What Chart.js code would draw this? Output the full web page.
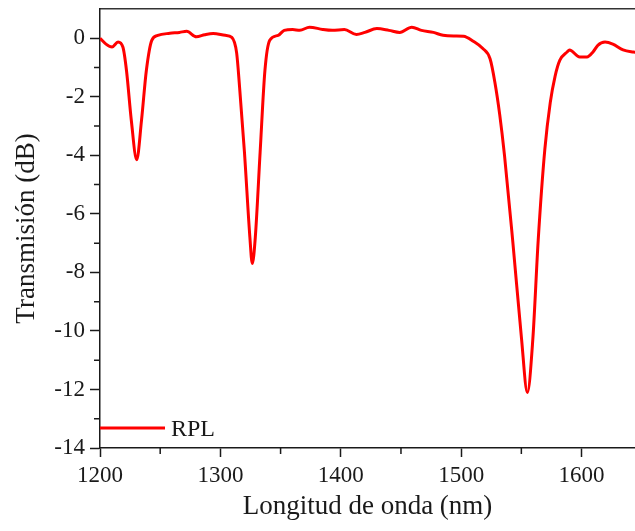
<!DOCTYPE html>
<html>
<head>
<meta charset="utf-8">
<script src="https://cdn.jsdelivr.net/npm/chart.js@4.4.1/dist/chart.umd.min.js"></script>
<style>
  html, body { margin: 0; padding: 0; background: #fff; }
  #wrap { width: 635px; height: 531px; }
</style>
</head>
<body>
<div id="wrap"><canvas id="chart" width="635" height="531"></canvas></div>
<script>
// Wavelength (nm) and transmission (dB)
const wavelength = [
  1200, 1205, 1210, 1215, 1219, 1222, 1226, 1230.5, 1234.5, 1238.5,
  1243, 1248, 1258, 1266, 1272, 1280, 1287, 1294, 1304, 1309.5,
  1313.5, 1316, 1320, 1324.5, 1326.5, 1329, 1333, 1337, 1341, 1348,
  1353, 1360, 1366, 1374, 1385, 1393, 1403, 1413, 1420, 1430,
  1440, 1449, 1459, 1467, 1477, 1485, 1495, 1502, 1510, 1518,
  1524, 1528, 1532, 1536, 1543, 1550, 1555, 1559.5, 1564, 1569.5,
  1574, 1578, 1582, 1588, 1590, 1598.5, 1604.5, 1609.5, 1613.5, 1619.5,
  1626, 1634.5, 1643, 1650
];
const transmission = [
  0, -0.2, -0.3, -0.13, -0.3, -1.1, -2.8, -4.15, -2.8, -1.1,
  -0.07, 0.1, 0.17, 0.2, 0.24, 0.05, 0.12, 0.16, 0.1, 0.03,
  -0.5, -1.7, -3.9, -6.8, -7.7, -6.8, -3.9, -1.1, -0.07, 0.1,
  0.27, 0.3, 0.27, 0.38, 0.3, 0.27, 0.3, 0.13, 0.2, 0.33,
  0.27, 0.2, 0.38, 0.27, 0.2, 0.1, 0.08, 0.07, -0.1, -0.35,
  -0.7, -1.5, -2.6, -4.0, -7.0, -10.2, -12.1, -10.3, -6.9, -3.8,
  -2.2, -1.3, -0.75, -0.47, -0.4, -0.64, -0.64, -0.47, -0.24, -0.13,
  -0.2, -0.4, -0.47, -0.5
];
const seriesLabel = 'RPL';
const xMinorTicks = [1250, 1350, 1450, 1550];
const yMinorTicks = [-13, -11, -9, -7, -5, -3, -1];

const FONT = '"Liberation Serif", "Times New Roman", serif';
const INK = '#1a1a1a';

// minor tick marks + legend inside the plot area
const extras = {
  id: 'extras',
  afterDraw(chart) {
    const ctx = chart.ctx;
    const area = chart.chartArea;
    const xs = chart.scales.x, ys = chart.scales.y;
    ctx.save();
    ctx.strokeStyle = INK;
    ctx.lineWidth = 1.5;
    ctx.beginPath();
    xMinorTicks.forEach(v => {
      const px = xs.getPixelForValue(v);
      ctx.moveTo(px, area.bottom);
      ctx.lineTo(px, area.bottom + 6);
    });
    yMinorTicks.forEach(v => {
      const py = ys.getPixelForValue(v);
      ctx.moveTo(area.left, py);
      ctx.lineTo(area.left - 6, py);
    });
    ctx.stroke();

    // legend
    const ds = chart.data.datasets[0];
    const ly = area.bottom - 20;
    ctx.strokeStyle = ds.borderColor;
    ctx.lineWidth = 3;
    ctx.beginPath();
    ctx.moveTo(area.left, ly);
    ctx.lineTo(area.left + 65, ly);
    ctx.stroke();
    ctx.fillStyle = INK;
    ctx.font = '24px ' + FONT;
    ctx.textBaseline = 'middle';
    ctx.fillText(ds.label, area.left + 71, ly + 2);
    ctx.restore();
  }
};

new Chart(document.getElementById('chart'), {
  type: 'line',
  data: {
    datasets: [{
      label: seriesLabel,
      data: wavelength.map((w, i) => ({ x: w, y: transmission[i] })),
      borderColor: '#ff0000',
      borderWidth: 3,
      pointRadius: 0,
      cubicInterpolationMode: 'monotone',
      fill: false
    }]
  },
  options: {
    responsive: false,
    animation: false,
    layout: { padding: { top: 9, right: 0, bottom: 0, left: 0 } },
    plugins: {
      legend: { display: false },
      tooltip: { enabled: false }
    },
    scales: {
      x: {
        type: 'linear',
        position: 'bottom',
        min: 1200,
        max: 1644.4,
        afterFit: s => { s.height = 83; s.paddingLeft = 0; s.paddingRight = 0; },
        ticks: {
          stepSize: 100,
          includeBounds: false,
          color: INK,
          padding: 5,
          font: { family: FONT, size: 23 },
          callback: v => String(v)
        },
        grid: { drawOnChartArea: false, tickLength: 9, tickColor: INK, tickWidth: 1.5 },
        border: { color: INK, width: 1.5 },
        title: {
          display: true,
          text: 'Longitud de onda (nm)',
          color: INK,
          padding: { top: 0, bottom: 8 },
          font: { family: FONT, size: 27 }
        }
      },
      x2: {
        type: 'linear',
        position: 'top',
        display: true,
        min: 1200,
        max: 1644.4,
        afterFit: s => { s.height = 0; s.paddingLeft = 0; s.paddingRight = 0; },
        ticks: { display: false },
        grid: { display: false, drawTicks: false },
        border: { display: true, color: '#333', width: 1.5 }
      },
      y: {
        type: 'linear',
        min: -14,
        max: 1,
        afterFit: s => { s.width = 100; s.paddingTop = 0; s.paddingBottom = 0; },
        ticks: {
          stepSize: 2,
          includeBounds: false,
          color: INK,
          padding: 5,
          font: { family: FONT, size: 23 },
          callback: v => String(v)
        },
        grid: { drawOnChartArea: false, tickLength: 10, tickColor: INK, tickWidth: 1.5 },
        border: { color: INK, width: 1.5 },
        title: {
          display: true,
          text: 'Transmisión (dB)',
          color: INK,
          padding: { top: 11, bottom: 0 },
          font: { family: FONT, size: 27 }
        }
      }
    }
  },
  plugins: [extras]
});
</script>
</body>
</html>
